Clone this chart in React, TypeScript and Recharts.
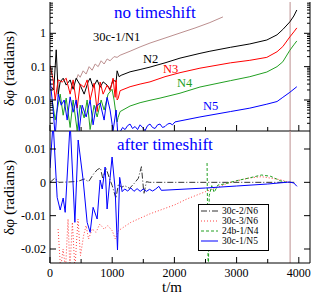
import React from 'react'
import { LineChart, Line, XAxis, YAxis, ReferenceLine, Legend } from 'recharts'

// x range (t/m) and y domains
const X_MAX = 4180
const LOG_MIN = 0.001176
const LOG_MAX = 8.68
const LIN_MIN = -0.0242
const LIN_MAX = 0.0154
const MARK_T = 3860

const xTicks = [0, 500, 1000, 1500, 2000, 2500, 3000, 3500, 4000]
const xMajor = [0, 1000, 2000, 3000, 4000]
const logTicks = [
  0.002, 0.003, 0.004, 0.005, 0.006, 0.007, 0.008, 0.009,
  0.01, 0.02, 0.03, 0.04, 0.05, 0.06, 0.07, 0.08, 0.09,
  0.1, 0.2, 0.3, 0.4, 0.5, 0.6, 0.7, 0.8, 0.9,
  1, 2, 3, 4, 5, 6, 7, 8
]
const logMajor = [0.01, 0.1, 1]
const linTicks = [-0.02, -0.01, 0, 0.01]

// top panel: no timeshift  [t, dphi]
const n1 = [[421,0.040],[453,0.058],[485,0.048],[533,0.075],[581,0.06],[629,0.1],[677,0.078],[726,0.12],[774,0.1],[822,0.15],[870,0.12],[918,0.17],[966,0.15],[1030,0.2],[1079,0.19],[1127,0.22],[1287,0.29],[1448,0.39],[1608,0.51],[1849,0.72],[2090,1.02],[2331,1.44],[2571,2.1],[2780,3.1]]
const n2 = [[20,0.025],[60,0.02],[100,0.32],[132,0.015],[164,0.035],[212,0.045],[260,0.028],[324,0.04],[372,0.021],[421,0.045],[485,0.028],[549,0.015],[613,0.035],[645,0.045],[693,0.024],[758,0.04],[806,0.024],[854,0.035],[918,0.028],[966,0.021],[1014,0.04],[1063,0.035],[1079,0.075],[1111,0.05],[1143,0.055],[1287,0.07],[1448,0.082],[1608,0.097],[1849,0.13],[2090,0.18],[2411,0.25],[2571,0.29],[2900,0.38],[3213,0.48],[3486,0.63],[3650,0.9],[3743,1.3],[3856,2.2],[3920,3.3],[3968,5.0]]
const n3 = [[0,0.11],[51,0.04],[83,0.01],[132,0.04],[196,0.0345],[260,0.045],[324,0.015],[372,0.04],[437,0.0057],[485,0.03],[549,0.024],[597,0.04],[645,0.01],[709,0.032],[758,0.0045],[806,0.0345],[854,0.015],[918,0.028],[966,0.019],[1014,0.045],[1047,0.012],[1063,0.04],[1079,0.01],[1095,0.011],[1127,0.019],[1287,0.025],[1448,0.03],[1608,0.035],[1849,0.05],[2090,0.066],[2411,0.09],[2900,0.13],[3213,0.155],[3486,0.19],[3650,0.28],[3743,0.4],[3856,0.78],[3920,1.1],[3968,1.45]]
const n4 = [[35,0.01],[83,0.0025],[164,0.015],[212,0.0035],[260,0.0114],[324,0.0015],[372,0.01],[437,0.0012],[485,0.007],[549,0.0029],[597,0.01],[645,0.0013],[709,0.007],[758,0.0031],[822,0.01],[870,0.005],[934,0.015],[998,0.021],[1030,0.01],[1063,0.0035],[1079,0.0022],[1095,0.003],[1127,0.0045],[1287,0.0066],[1448,0.0083],[1608,0.0098],[1769,0.0114],[2090,0.016],[2411,0.0245],[2900,0.038],[3213,0.05],[3486,0.069],[3650,0.1],[3743,0.14],[3856,0.31],[3920,0.45],[3968,0.59]]
const n5 = [[0,0.045],[51,0.005],[83,0.0008],[132,0.015],[180,0.007],[228,0.01],[276,0.0025],[324,0.0124],[372,0.0043],[421,0.01],[469,0.0012],[517,0.007],[581,0.0031],[645,0.01],[693,0.0018],[742,0.0065],[806,0.0081],[870,0.0025],[918,0.012],[966,0.005],[1014,0.0012],[1063,0.005],[1095,0.0007],[1127,0.0011],[1167,0.0015],[1207,0.0013],[1247,0.0017],[1287,0.0019],[1327,0.0014],[1368,0.0016],[1408,0.0013],[1448,0.0018],[1488,0.0015],[1528,0.0012],[1568,0.0017],[1608,0.0019],[1648,0.0015],[1689,0.0014],[1729,0.0018],[1769,0.0019],[1809,0.0015],[1849,0.0016],[1889,0.0019],[1929,0.002],[1969,0.0018],[2009,0.0022],[2411,0.0031],[2900,0.0045],[3213,0.0057],[3486,0.0075],[3650,0.009],[3743,0.012],[3856,0.017],[3968,0.025]]

// bottom panel: after timeshift
const s30c2 = [[0,0],[80,0.0013],[140,0],[300,0.0001],[450,0.0003],[550,0.001],[620,0.0002],[700,0.0025],[760,0.0038],[810,0.0043],[850,0.001],[900,0.0043],[950,0.0015],[1000,-0.001],[1060,-0.0048],[1100,-0.0005],[1150,-0.0015],[1200,-0.001],[1280,-0.0018],[1350,-0.0004],[1420,0.0012],[1470,0.0047],[1510,-0.0035],[1550,0.0002],[1600,0],[3960,0]]
const s30c3 = [[130,-0.014],[170,-0.026],[210,-0.02],[250,-0.026],[290,-0.011],[320,-0.026],[360,-0.012],[400,-0.026],[450,-0.011],[490,-0.022],[540,-0.016],[580,-0.013],[620,-0.017],[680,-0.014],[740,-0.015],[800,-0.0125],[870,-0.014],[930,-0.013],[1000,-0.0145],[1050,-0.017],[1100,-0.0145],[1300,-0.012],[1600,-0.0095],[2000,-0.0068],[2200,-0.005],[2500,-0.0028],[2900,0.0],[3200,0.0013],[3400,0.0017],[3700,0.0008],[3850,0]]
const s24b1 = [[2525,0.0058],[2545,-0.03],[2560,-0.004],[2600,-0.001],[2640,-0.003],[2700,-0.0008],[2800,-0.0005],[3000,0.0005],[3200,0.0013],[3400,0.0022],[3550,0.0018],[3700,0.0005],[3800,0.0]]
const s30c1 = [[0,0.0043],[50,0.018],[115,-0.0045],[164,-0.0083],[212,-0.0047],[244,-0.009],[324,0.018],[400,-0.012],[453,0.0127],[533,0.0007],[597,-0.012],[645,-0.015],[693,-0.0075],[758,-0.011],[806,0.0007],[840,-0.002],[886,0.0046],[918,-0.008],[998,0.0076],[1047,-0.002],[1085,-0.0203],[1120,0.0015],[1160,-0.0028],[1200,-0.002],[1250,-0.0026],[1300,-0.0017],[1350,-0.0027],[1400,-0.0019],[1450,-0.0027],[1500,-0.002],[1550,-0.0027],[1600,-0.0021],[1650,-0.0026],[1700,-0.002],[1750,-0.0012],[1790,-0.0024],[2500,-0.0017],[3000,-0.0011],[3500,-0.0005],[3850,0.0001],[3920,-0.0002],[3970,-0.0012]]

const FONT = 'Liberation Serif, DejaVu Serif, serif'
const BROWN = '#bc8f8f'
const GREEN = '#22a022'

const topSeries = [
  { name: '30c-1/N1', data: n1, color: BROWN },
  { name: 'N2', data: n2, color: '#000000' },
  { name: 'N3', data: n3, color: '#ff0000' },
  { name: 'N4', data: n4, color: GREEN },
  { name: 'N5', data: n5, color: '#0000ff' }
]

const bottomSeries = [
  { name: '30c-2/N6', data: s30c2, color: '#333333', dash: '6 2 1 2' },
  { name: '30c-3/N6', data: s30c3, color: '#ff4040', dash: '1 2' },
  { name: '24b-1/N4', data: s24b1, color: GREEN, dash: '3 2' },
  { name: '30c-1/N5', data: s30c1, color: '#0000ff', dash: undefined }
]

const toPts = (a: number[][]) => a.map(([t, v]) => ({ t, v }))

const near = (list: number[], v: number) => list.some((m) => Math.abs(m - v) < 1e-9)

const txt = (size: number) => ({ fontFamily: FONT, fontSize: size })

function yTick(side: 'left' | 'right', majors: number[], fmt?: (v: number) => string) {
  return (p: any) => {
    const { x, y, payload } = p
    const major = near(majors, payload.value)
    const len = major ? 6 : 3
    const dir = side === 'left' ? 1 : -1
    return (
      <g>
        <line x1={x} x2={x + dir * len} y1={y} y2={y} stroke="#000" />
        {major && fmt && (
          <text x={x - 4} y={y} dy="0.35em" textAnchor="end" style={txt(12)} fill="#000">
            {fmt(payload.value)}
          </text>
        )}
      </g>
    )
  }
}

function xTick(labels: boolean) {
  return (p: any) => {
    const { x, y, payload } = p
    const major = near(xMajor, payload.value)
    const len = major ? 6 : 4
    return (
      <g>
        <line x1={x} x2={x} y1={y} y2={y - len} stroke="#000" />
        {labels && major && (
          <text x={x} y={y + 14} textAnchor="middle" style={txt(12)} fill="#000">
            {payload.value}
          </text>
        )}
      </g>
    )
  }
}

const logFmt = (v: number) => String(v)
const linFmt = (v: number) => (v === 0 ? '0' : String(v))

function LegendBox() {
  return (
    <svg width={71} height={48} style={{ display: 'block' }}>
      <rect x={0.5} y={0.5} width={70} height={46} fill="#fff" stroke="#000" />
      {bottomSeries.map((s, i) => {
        const y = 7 + i * 10
        return (
          <g key={s.name}>
            <line x1={3} x2={20} y1={y} y2={y} stroke={s.color} strokeDasharray={s.dash} />
            <text x={24} y={y} dy="0.35em" style={txt(9.5)} fill="#000">
              {s.name}
            </text>
          </g>
        )
      })}
    </svg>
  )
}

const yLabel = (cy: number) => (
  <text x={14} y={cy} transform={`rotate(-90 14 ${cy})`} textAnchor="middle" style={txt(15.5)} fill="#000">
    δφ (radians)
  </text>
)

export default function App() {
  return (
    <div style={{ position: 'absolute', left: 0, top: 0, width: 315, height: 297, background: '#fff', fontFamily: FONT }}>
      <div style={{ position: 'absolute', left: 0, top: 0 }}>
        <LineChart width={315} height={135} margin={{ top: 2, right: 0, bottom: 0, left: 0 }}>
          <XAxis xAxisId="b" dataKey="t" type="number" domain={[0, X_MAX]} allowDataOverflow ticks={xTicks} interval={0}
            height={4} tickSize={0} tickMargin={0} tickLine={false} tick={xTick(false)} axisLine={{ stroke: '#000' }} />
          <XAxis xAxisId="top" orientation="top" type="number" domain={[0, X_MAX]} allowDataOverflow height={0}
            tick={false} tickLine={false} axisLine={{ stroke: '#000' }} />
          <YAxis yAxisId="l" scale="log" type="number" domain={[LOG_MIN, LOG_MAX]} allowDataOverflow ticks={logTicks} interval={0}
            width={50} tickSize={0} tickMargin={0} tickLine={false} tick={yTick('left', logMajor, logFmt)} axisLine={{ stroke: '#000' }} />
          <YAxis yAxisId="r" orientation="right" scale="log" type="number" domain={[LOG_MIN, LOG_MAX]} allowDataOverflow ticks={logTicks} interval={0}
            width={5} tickSize={0} tickMargin={0} tickLine={false} tick={yTick('right', logMajor)} axisLine={{ stroke: '#000' }} />
          <ReferenceLine xAxisId="b" yAxisId="l" x={MARK_T} stroke={BROWN} />
          {topSeries.map((s) => (
            <Line key={s.name} xAxisId="b" yAxisId="l" data={toPts(s.data)} dataKey="v" name={s.name} type="linear"
              stroke={s.color} strokeWidth={1} dot={false} isAnimationActive={false} />
          ))}
          <text x={114} y={18} style={txt(17)} fill="#0000ff">no timeshift</text>
          <text x={93} y={41} style={txt(12.5)} fill="#000">30c-1/N1</text>
          <text x={143} y={63} style={txt(12.5)} fill="#000">N2</text>
          <text x={163} y={73} style={txt(12.5)} fill="#ff0000">N3</text>
          <text x={177} y={87} style={txt(12.5)} fill={GREEN}>N4</text>
          <text x={203} y={110} style={txt(12.5)} fill="#0000ff">N5</text>
          {yLabel(68.5)}
        </LineChart>
      </div>
      <div style={{ position: 'absolute', left: 0, top: 129 }}>
        <LineChart width={315} height={168} margin={{ top: 2, right: 0, bottom: 0, left: 0 }}>
          <XAxis xAxisId="b" dataKey="t" type="number" domain={[0, X_MAX]} allowDataOverflow ticks={xTicks} interval={0}
            height={34} tickSize={0} tickMargin={0} tickLine={false} tick={xTick(true)} axisLine={{ stroke: '#000' }} />
          <YAxis yAxisId="l" type="number" domain={[LIN_MIN, LIN_MAX]} allowDataOverflow ticks={linTicks} interval={0}
            width={50} tickSize={0} tickMargin={0} tickLine={false} tick={yTick('left', linTicks, linFmt)} axisLine={{ stroke: '#000' }} />
          <YAxis yAxisId="r" orientation="right" type="number" domain={[LIN_MIN, LIN_MAX]} allowDataOverflow ticks={linTicks} interval={0}
            width={5} tickSize={0} tickMargin={0} tickLine={false} tick={yTick('right', linTicks)} axisLine={{ stroke: '#000' }} />
          <ReferenceLine xAxisId="b" yAxisId="l" x={MARK_T} stroke={BROWN} />
          {bottomSeries.map((s) => (
            <Line key={s.name} xAxisId="b" yAxisId="l" data={toPts(s.data)} dataKey="v" name={s.name} type="linear"
              stroke={s.color} strokeWidth={1} strokeDasharray={s.dash} dot={false} isAnimationActive={false} />
          ))}
          <Legend layout="vertical" align="center" verticalAlign="middle" content={() => <LegendBox />}
            wrapperStyle={{ position: 'absolute', left: 198, top: 75, width: 71, height: 48 }} />
          <text x={117} y={21} style={txt(17)} fill="#0000ff">after timeshift</text>
          <text x={172} y={163} textAnchor="middle" style={txt(15)} fill="#000">t/m</text>
          {yLabel(68.5)}
        </LineChart>
      </div>
    </div>
  )
}
